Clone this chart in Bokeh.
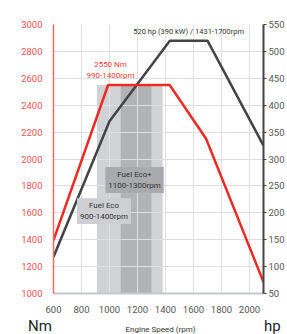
from bokeh.plotting import figure
from bokeh.models import Range1d, LinearAxis, FixedTicker, Label, Div
from bokeh.layouts import column
from bokeh.embed import file_html
from bokeh.resources import INLINE

# ---- data ----
torque_rpm = [600, 990, 1430, 1690, 2100]
torque_nm = [1395, 2550, 2550, 2150, 1085]
power_rpm = [600, 1000, 1431, 1700, 2100]
power_hp = [118, 370, 520, 520, 325]
peak_torque = 2550
fuel_eco = (910, 1380)
fuel_eco_plus = (1080, 1300)
x_ticks = [600, 800, 1000, 1200, 1400, 1600, 1800, 2000]
nm_ticks = [1000, 1200, 1400, 1600, 1800, 2000, 2200, 2400, 2600, 2800, 3000]
hp_ticks = [50, 100, 150, 200, 250, 300, 350, 400, 450, 500, 550]

FONT = "Roboto"
RED = "#ee2a24"
DARK = "#444444"
GRID = "#dcdfe3"

p = figure(width=287, height=317, output_backend="svg", toolbar_location=None,
           x_range=Range1d(600, 2100), y_range=Range1d(1000, 3000),
           min_border_left=53, min_border_right=24, min_border_top=24, min_border_bottom=24)
p.outline_line_color = None
p.background_fill_color = "white"
p.extra_y_ranges = {"hp": Range1d(50, 550)}

# grid
p.xgrid.ticker = FixedTicker(ticks=x_ticks)
p.ygrid.ticker = FixedTicker(ticks=nm_ticks)
p.xgrid.grid_line_color = GRID
p.ygrid.grid_line_color = GRID
p.xgrid.grid_line_width = 1
p.ygrid.grid_line_width = 1

# shaded fuel-eco bands (below grid)
p.quad(left=[fuel_eco[0]], right=[fuel_eco[1]], bottom=[1000], top=[peak_torque],
       fill_color="#d0d2d5", line_color=None, level="image")
p.quad(left=[fuel_eco_plus[0]], right=[fuel_eco_plus[1]], bottom=[1000], top=[peak_torque],
       fill_color="#b2b3b6", line_color=None, level="image")

# curves
p.line(power_rpm, power_hp, y_range_name="hp", line_color=DARK, line_width=2.5)
p.line(torque_rpm, torque_nm, line_color=RED, line_width=2.5)

# left axis (Nm)
ya = p.yaxis[0]
ya.ticker = FixedTicker(ticks=nm_ticks)
ya.axis_line_color = "#f26b6b"
ya.axis_line_width = 1.5
ya.major_tick_line_color = None
ya.minor_tick_line_color = None
ya.major_label_text_color = "#f05454"
ya.major_label_text_font = FONT
ya.major_label_text_font_size = "9.5px"
ya.major_label_standoff = 5

# bottom axis
xa = p.xaxis[0]
xa.ticker = FixedTicker(ticks=x_ticks)
xa.axis_line_color = "#c4c7cb"
xa.axis_line_width = 2
xa.major_tick_line_color = None
xa.minor_tick_line_color = None
xa.major_label_text_color = "#555555"
xa.major_label_text_font = FONT
xa.major_label_text_font_size = "9.5px"
xa.major_label_standoff = 6

# right axis (hp)
ra = LinearAxis(y_range_name="hp", ticker=FixedTicker(ticks=hp_ticks))
ra.axis_line_color = DARK
ra.axis_line_width = 2
ra.major_tick_line_color = DARK
ra.major_tick_in = 0
ra.major_tick_out = 3
ra.minor_tick_line_color = None
ra.major_label_text_color = "#555555"
ra.major_label_text_font = FONT
ra.major_label_text_font_size = "9.5px"
ra.major_label_standoff = 2
p.add_layout(ra, "right")

# annotations
p.add_layout(Label(x=1579, y=2948, text="520 hp (390 kW)  /  1431-1700rpm",
                   text_align="center", text_baseline="middle", text_color="#333333",
                   text_font=FONT, text_font_size="7.5px"))
p.add_layout(Label(x=1007, y=2703, text="2550 Nm", text_align="center", text_baseline="middle",
                   text_color="#ee3b33", text_font=FONT, text_font_size="8px"))
p.add_layout(Label(x=1007, y=2621, text="990-1400rpm", text_align="center", text_baseline="middle",
                   text_color="#ee3b33", text_font=FONT, text_font_size="8px"))
p.add_layout(Label(x=1179, y=1844, text="Fuel Eco+\n1100-1300rpm", text_align="center",
                   text_baseline="middle", text_color="#333333", text_font=FONT,
                   text_font_size="8px", background_fill_color="#a9aaad", padding=3))
p.add_layout(Label(x=961, y=1613, text="Fuel Eco\n900-1400rpm", text_align="center",
                   text_baseline="middle", text_color="#333333", text_font=FONT,
                   text_font_size="8px", background_fill_color="#cdcfd2", padding=3))

# strip below the chart carrying the unit / axis titles
strip_html = (
    '<div style="position:relative;width:287px;height:17px;font-family:Roboto;margin:0;padding:0;">'
    '<span style="position:absolute;left:28px;top:2px;font-size:15px;line-height:15px;color:#222222;">Nm</span>'
    '<span style="position:absolute;left:110px;top:9px;width:101px;text-align:center;'
    'font-size:8px;line-height:8px;color:#333333;white-space:nowrap;">Engine Speed (rpm)</span>'
    '<span style="position:absolute;left:264px;top:2px;font-size:15px;line-height:15px;color:#222222;">hp</span>'
    '</div>'
)
s = Div(text=strip_html, width=287, height=17, margin=0)

layout = column(p, s, spacing=0)
open("out.html", "w").write(file_html(layout, INLINE))
